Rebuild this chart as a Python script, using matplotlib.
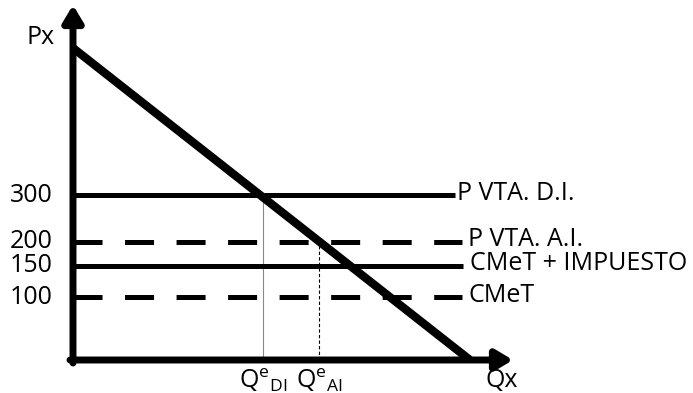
import matplotlib
matplotlib.use('Agg')
import matplotlib.pyplot as plt

plt.rcParams['font.family'] = ['Open Sans', 'DejaVu Sans']
plt.rcParams['mathtext.fontset'] = 'custom'
plt.rcParams['mathtext.rm'] = 'Open Sans'
plt.rcParams['mathtext.it'] = 'Open Sans'

# schematic levels (height above the Q axis, chart units) and their labels
level_pos = [165, 118, 94, 63]
level_ticks = ['300', '200', '150', '100']
level_names = ['P VTA. D.I.', 'P VTA. A.I.', 'CMeT + IMPUESTO', 'CMeT']
level_dashed = [False, True, False, True]
level_end = [382, 389, 390, 389]
label_gap = [2, 6, 7, 7]

# demand line ends
demand_x = [0, 397]
demand_y = [312, 0]

# equilibrium quantities
q_pos = [190, 246]
q_labels = [r'Q$^{\mathrm{e}}$$_{\mathrm{DI}}$', r'Q$^{\mathrm{e}}$$_{\mathrm{AI}}$']

W, H = 693, 393
fig = plt.figure(figsize=(W / 100, H / 100), dpi=100)
ax = fig.add_axes([73 / W, 33 / H, 442 / W, 352 / H])
ax.set_xlim(0, 442)
ax.set_ylim(0, 352)
ax.axis('off')

fs = 18
lw_h = 3.6

# horizontal price / cost lines
for pos, tick, name, dashed, end, gap in zip(level_pos, level_ticks, level_names,
                                             level_dashed, level_end, label_gap):
    ln, = ax.plot([0, end], [pos, pos], color='black', lw=lw_h, solid_capstyle='butt', zorder=2)
    if dashed:
        ln.set_dashes([20.9 / lw_h, 16.2 / lw_h])
    ax.text(-20, pos, tick, ha='right', va='center', fontsize=fs)
    ax.text(end + gap, pos + 2, name, ha='left', va='center', fontsize=fs)

# vertical guides at equilibrium quantities
ax.plot([q_pos[0], q_pos[0]], [0, level_pos[0]], color='#888888', lw=0.8, zorder=1)
ax.plot([q_pos[1], q_pos[1]], [0, level_pos[1]], color='black', lw=0.8, ls=(0, (3, 2)), zorder=1)
for q, lab in zip(q_pos, q_labels):
    ax.text(q, -6, lab, ha='center', va='top', fontsize=fs)

# demand curve
ax.plot(demand_x, demand_y, color='black', lw=6, solid_capstyle='butt', zorder=3)

# axes with arrows
arrow = dict(arrowstyle='-|>,head_length=1.0,head_width=0.6', color='black', lw=5, shrinkA=0, shrinkB=0)
ax.annotate('', xy=(0, 355), xytext=(0, -3), arrowprops=arrow, annotation_clip=False)
ax.annotate('', xy=(440, 0), xytext=(-3, 0), arrowprops=arrow, annotation_clip=False)

ax.text(-18, 322, 'Px', ha='right', va='center', fontsize=fs)
ax.text(429, -8, 'Qx', ha='center', va='top', fontsize=fs)

fig.savefig('out.png', dpi=100)
